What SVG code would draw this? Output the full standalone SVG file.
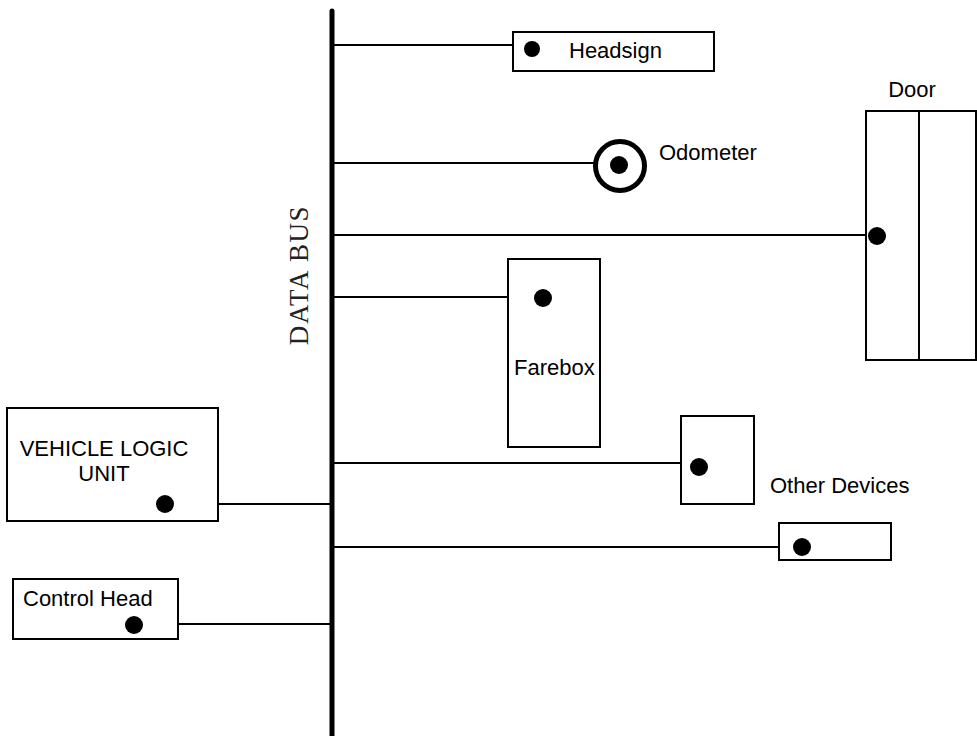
<svg xmlns="http://www.w3.org/2000/svg" width="977" height="736" viewBox="0 0 977 736">
<style>
.box{fill:#fff;stroke:#000;stroke-width:2}
.wire{stroke:#000;stroke-width:2;fill:none}
.dot{fill:#000}
.lbl{font-family:"Liberation Sans",Arial,sans-serif;font-size:22px;fill:#000}
.bus{font-family:"Liberation Serif","Times New Roman",serif;font-size:27px;letter-spacing:1.6px;fill:#222}
</style>
<rect width="977" height="736" fill="#fff"/>
<g id="connectors">
<line class="wire" x1="332" y1="45" x2="532" y2="45"/>
<line class="wire" x1="332" y1="163" x2="600" y2="163"/>
<line class="wire" x1="332" y1="235" x2="877" y2="235"/>
<line class="wire" x1="332" y1="297" x2="543" y2="297"/>
<line class="wire" x1="332" y1="463" x2="699" y2="463"/>
<line class="wire" x1="332" y1="547" x2="802" y2="547"/>
<line class="wire" x1="165" y1="504" x2="332" y2="504"/>
<line class="wire" x1="134" y1="624" x2="332" y2="624"/>
</g>
<g id="databus">
<line x1="332" y1="11" x2="332" y2="740" stroke="#000" stroke-width="5" stroke-linecap="round"/>
<text class="bus" transform="translate(308,275) rotate(-90)" text-anchor="middle">DATA BUS</text>
</g>
<g id="headsign">
<rect class="box" x="513" y="32" width="201" height="39"/>
<circle class="dot" cx="532" cy="49" r="8"/>
<text class="lbl" x="569" y="58">Headsign</text>
</g>
<g id="odometer">
<circle cx="620" cy="166" r="24.5" fill="#fff" stroke="#000" stroke-width="5"/>
<circle class="dot" cx="619" cy="165" r="9"/>
<text class="lbl" x="659" y="160">Odometer</text>
</g>
<g id="door">
<rect class="box" x="866" y="111" width="110" height="249"/>
<line class="wire" x1="919" y1="111" x2="919" y2="360"/>
<circle class="dot" cx="877" cy="236" r="9"/>
<text class="lbl" x="912" y="97" text-anchor="middle">Door</text>
</g>
<g id="farebox">
<rect class="box" x="508" y="259" width="92" height="188"/>
<circle class="dot" cx="543" cy="298" r="9"/>
<text class="lbl" x="514" y="375">Farebox</text>
</g>
<g id="vlu">
<rect class="box" x="7" y="408" width="211" height="113"/>
<text class="lbl" x="104" y="456" text-anchor="middle">VEHICLE LOGIC</text>
<text class="lbl" x="104" y="481" text-anchor="middle">UNIT</text>
<circle class="dot" cx="165" cy="504" r="9"/>
</g>
<g id="controlhead">
<rect class="box" x="13" y="579" width="165" height="60"/>
<text class="lbl" x="23" y="606">Control Head</text>
<circle class="dot" cx="134" cy="625" r="9"/>
</g>
<g id="otherdevice1">
<rect class="box" x="681" y="416" width="73" height="88"/>
<circle class="dot" cx="699" cy="467" r="9"/>
</g>
<g id="otherdevice2">
<rect class="box" x="779" y="523" width="112" height="37"/>
<circle class="dot" cx="802" cy="547" r="9"/>
</g>
<text class="lbl" x="770" y="493">Other Devices</text>
</svg>
